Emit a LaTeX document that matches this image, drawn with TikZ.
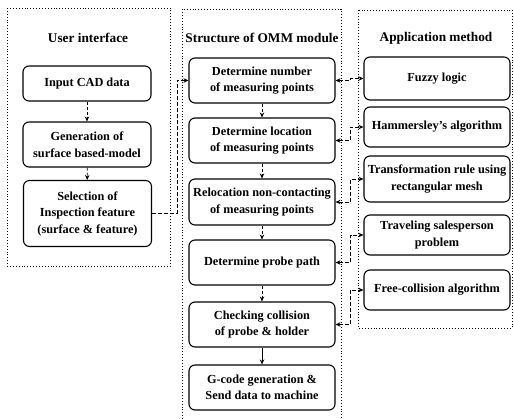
\documentclass[tikz,border=0pt]{standalone}
\usepackage{fontspec}
\setmainfont{Liberation Serif}
\usetikzlibrary{arrows.meta}
\begin{document}
\begin{tikzpicture}[x=1pt,y=-1pt,
  every node/.style={font=\fontsize{12.3}{16.5}\selectfont\bfseries},
  box/.style={draw,line width=1.1pt,rounded corners=6pt,align=center,inner sep=1pt},
  lbox/.style={box,minimum width=128pt},
  mbox/.style={box,minimum width=146pt},
  rbox/.style={box,minimum width=146pt},
  frame/.style={dotted,line width=0.9pt},
  title/.style={font=\fontsize{13.3}{15}\selectfont\bfseries},
  tip/.style={-{Stealth[length=5pt,width=4.5pt]}},
  flow/.style={densely dashed,line width=0.7pt,tip},
  link/.style={dash pattern=on 4pt off 2pt,line width=0.7pt,
    {Stealth[length=5pt,width=4.5pt]}-{Stealth[length=5pt,width=4.5pt]}}]
\useasboundingbox (0,0) rectangle (514,419);

% column frames
\draw[frame] (7,8) rectangle (170,266);
\draw[frame] (182,419) -- (182,9) -- (341,9) -- (341,419);
\draw[frame] (358,10) rectangle (512,328);

% column titles
\node[title] (t1) at (88,38) {User interface};
\node[title] (t2) at (262,38) {Structure of OMM module};
\node[title] (t3) at (436,38) {Application method};

% user interface
\node[lbox,minimum height=35pt] (in)  at (87,83.5) {Input CAD data};
\node[lbox,minimum height=45pt] (gen) at (87,144.5) {Generation of\\surface based-model};
\node[lbox,minimum height=66pt] (sel) at (87.5,213.5) {Selection of\\Inspection feature\\(surface \& feature)};

% OMM module
\node[mbox,minimum height=45pt] (n1) at (262,80.5) {Determine number\\of measuring points};
\node[mbox,minimum height=45pt] (n2) at (262,140.5) {Determine location\\of measuring points};
\node[mbox,minimum height=46pt] (n3) at (262,202) {Relocation non-contacting\\of measuring points};
\node[mbox,minimum height=45pt] (n4) at (262,262.5) {Determine probe path};
\node[mbox,minimum height=45pt] (n5) at (262,324.5) {Checking collision\\of probe \& holder};
\node[mbox,minimum height=45pt] (n6) at (262,387.5) {G-code generation \&\\Send data to machine};

% application methods
\node[rbox,minimum height=43pt] (r1) at (437,78.5) {Fuzzy logic};
\node[rbox,minimum height=40pt] (r2) at (437,127) {Hammersley's algorithm};
\node[rbox,minimum height=46pt] (r3) at (437,179) {Transformation rule using\\rectangular mesh};
\node[rbox,minimum height=40pt] (r4) at (437,235) {Traveling salesperson\\problem};
\node[rbox,minimum height=40pt] (r5) at (437,290) {Free-collision algorithm};

% flow inside columns
\draw[flow] (in) -- (gen);
\draw[flow] (gen) -- (sel);
\draw[flow] (n1) -- (n2);
\draw[flow] (n2) -- (n3);
\draw[flow] (n3) -- (n4);
\draw[flow] (n4) -- (n5);
\draw[line width=0.8pt,tip] (n5) -- (n6);

% selected feature feeds the module
\draw[dash pattern=on 4pt off 2pt,line width=0.7pt,tip] (sel.east) -- ++(25,0) |- (n1.west);

% links between module steps and methods
\draw[link] (n1.east) -- ++(15,0) |- (r1.west);
\draw[link] (n2.east) -- ++(15,0) |- (r2.west);
\draw[link] (n3.east) -- ++(15,0) |- (r3.west);
\draw[link] (n4.east) -- ++(15,0) |- (r4.west);
\draw[link] (n5.east) -- ++(15,0) |- (r5.west);
\end{tikzpicture}
\end{document}
